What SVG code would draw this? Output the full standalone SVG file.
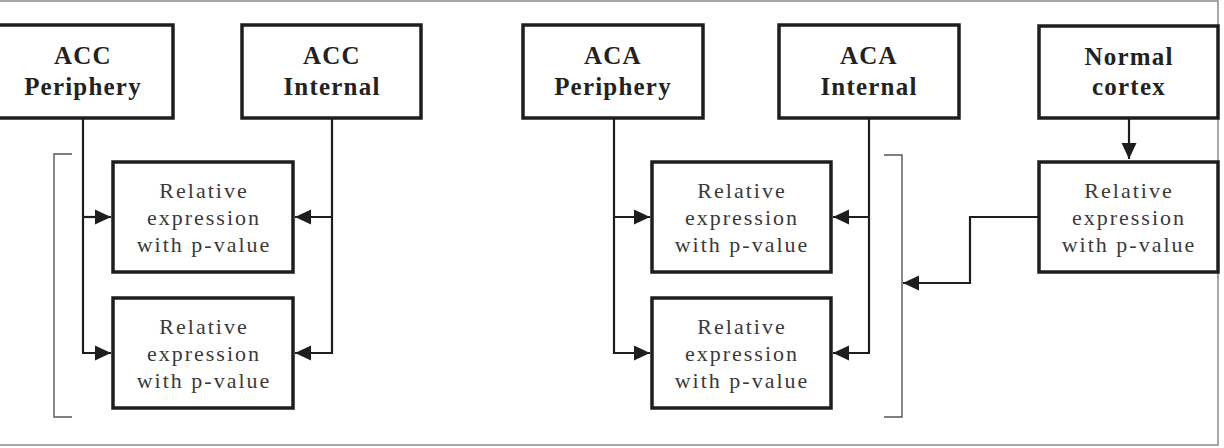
<svg xmlns="http://www.w3.org/2000/svg" width="1224" height="448" viewBox="0 0 1224 448">
<defs>
<style>
.frame{fill:none;stroke:#8a8a8a;stroke-width:1.5}
.box{fill:#fff;stroke:#1e1e1e;stroke-width:3.5}
.hd{font-family:"Liberation Serif",serif;font-weight:bold;font-size:25px;letter-spacing:1.2px;fill:#222;text-anchor:middle}
.rt{font-family:"Liberation Serif",serif;font-size:22px;letter-spacing:2px;fill:#3a3a3a;text-anchor:middle}
.con{fill:none;stroke:#1e1e1e;stroke-width:2.2}
.br{fill:none;stroke:#555;stroke-width:1.4}
</style>
<marker id="ah" markerUnits="userSpaceOnUse" markerWidth="18" markerHeight="18" viewBox="0 0 18 18" refX="17" refY="9" orient="auto">
<path d="M1,1.5 L17,9 L1,16.5 Z" fill="#1e1e1e"/>
</marker>
</defs>
<rect width="1224" height="448" fill="#fff"/>
<rect class="frame" x="-1" y="1" width="1219" height="444"/>

<g id="connectors">
<path class="con" d="M83,118 V353 H111" marker-end="url(#ah)"/>
<path class="con" d="M83,217 H111" marker-end="url(#ah)"/>
<path class="con" d="M332,118 V353 H295" marker-end="url(#ah)"/>
<path class="con" d="M332,217 H295" marker-end="url(#ah)"/>
<path class="con" d="M614,118 V353 H650" marker-end="url(#ah)"/>
<path class="con" d="M614,217 H650" marker-end="url(#ah)"/>
<path class="con" d="M869,118 V353 H833" marker-end="url(#ah)"/>
<path class="con" d="M869,217 H833" marker-end="url(#ah)"/>
<path class="con" d="M1129,118 V159" marker-end="url(#ah)"/>
<path class="con" d="M1039,217 H970 V283 H903" marker-end="url(#ah)"/>
<path class="br" d="M72,154 H54 V417 H72"/>
<path class="br" d="M884,155 H902 V417 H884"/>
</g>

<g id="acc-periphery">
<rect class="box" x="-8" y="25" width="181" height="93"/>
<text class="hd" x="83" y="64">ACC</text>
<text class="hd" x="83" y="95">Periphery</text>
</g>
<g id="acc-internal">
<rect class="box" x="242" y="25" width="179" height="93"/>
<text class="hd" x="332" y="64">ACC</text>
<text class="hd" x="332" y="95">Internal</text>
</g>
<g id="acc-rel-1">
<rect class="box" x="113" y="162" width="180" height="110"/>
<text class="rt" x="204" y="198">Relative</text>
<text class="rt" x="204" y="225">expression</text>
<text class="rt" x="204" y="252">with p-value</text>
</g>
<g id="acc-rel-2">
<rect class="box" x="113" y="298" width="180" height="110"/>
<text class="rt" x="204" y="334">Relative</text>
<text class="rt" x="204" y="361">expression</text>
<text class="rt" x="204" y="388">with p-value</text>
</g>

<g id="aca-periphery">
<rect class="box" x="523" y="25" width="180" height="93"/>
<text class="hd" x="613" y="64">ACA</text>
<text class="hd" x="613" y="95">Periphery</text>
</g>
<g id="aca-internal">
<rect class="box" x="779" y="25" width="180" height="93"/>
<text class="hd" x="869" y="64">ACA</text>
<text class="hd" x="869" y="95">Internal</text>
</g>
<g id="aca-rel-1">
<rect class="box" x="652" y="162" width="179" height="110"/>
<text class="rt" x="742" y="198">Relative</text>
<text class="rt" x="742" y="225">expression</text>
<text class="rt" x="742" y="252">with p-value</text>
</g>
<g id="aca-rel-2">
<rect class="box" x="652" y="298" width="179" height="110"/>
<text class="rt" x="742" y="334">Relative</text>
<text class="rt" x="742" y="361">expression</text>
<text class="rt" x="742" y="388">with p-value</text>
</g>

<g id="normal-cortex">
<rect class="box" x="1039" y="26" width="179" height="92"/>
<text class="hd" x="1129" y="65">Normal</text>
<text class="hd" x="1129" y="95">cortex</text>
</g>
<g id="normal-rel">
<rect class="box" x="1039" y="162" width="179" height="110"/>
<text class="rt" x="1129" y="198">Relative</text>
<text class="rt" x="1129" y="225">expression</text>
<text class="rt" x="1129" y="252">with p-value</text>
</g>
</svg>
